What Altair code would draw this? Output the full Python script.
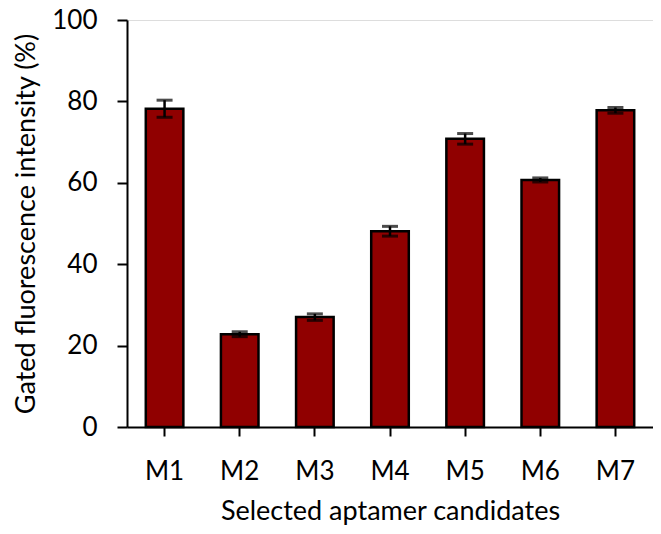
import altair as alt
import pandas as pd

candidates = ["M1", "M2", "M3", "M4", "M5", "M6", "M7"]
values = [78.2, 22.8, 27.0, 48.1, 70.8, 60.7, 77.8]
errors = [2.1, 0.6, 0.8, 1.2, 1.3, 0.5, 0.7]

df = pd.DataFrame({"cand": candidates, "val": values, "err": errors})
df["lo"] = df["val"] - df["err"]
df["hi"] = df["val"] + df["err"]

FONT = "Lato"

x = alt.X("cand:N", sort=candidates,
          scale=alt.Scale(paddingInner=0.5, paddingOuter=0.25),
          axis=alt.Axis(title="Selected aptamer candidates", labelAngle=0,
                        labelFontSize=26, titleFontSize=27, labelPadding=22,
                        titlePadding=14, tickSize=9, tickWidth=2, domainWidth=2,
                        domainColor="black", tickColor="black",
                        labelColor="black", titleColor="black",
                        labelFont=FONT, titleFont=FONT, titleFontWeight="normal"))
y = alt.Y("val:Q", scale=alt.Scale(domain=[0, 100]),
          axis=alt.Axis(title="Gated fluorescence intensity (%)", values=[0, 20, 40, 60, 80, 100],
                        grid=False, labelFontSize=26, titleFontSize=27, tickSize=10,
                        tickWidth=2, domainWidth=2, domainColor="black", tickColor="black",
                        labelColor="black", titleColor="black", labelPadding=20,
                        titlePadding=11, labelFont=FONT, titleFont=FONT,
                        titleFontWeight="normal"))

base = alt.Chart(df)
bars = base.mark_bar(color="#900000", stroke="black", strokeWidth=2.5).encode(x=x, y=y)
rules = base.mark_rule(color="black", strokeWidth=2.5).encode(
    x=alt.X("cand:N", sort=candidates), y="lo:Q", y2="hi:Q")
cap_hi = base.mark_tick(color="black", thickness=3, size=16).encode(
    x=alt.X("cand:N", sort=candidates), y="hi:Q")
cap_lo = base.mark_tick(color="black", thickness=3, size=16).encode(
    x=alt.X("cand:N", sort=candidates), y="lo:Q")

chart = alt.layer(bars, rules, cap_hi, cap_lo).properties(
    width=526, height=407,
    autosize=alt.AutoSizeParams(type="none"),
    padding={"left": 119, "top": 12, "right": 0, "bottom": 99},
).configure_view(stroke=None).configure(background="white")

chart.save("out.html", embed_options={"renderer": "svg", "actions": False})
